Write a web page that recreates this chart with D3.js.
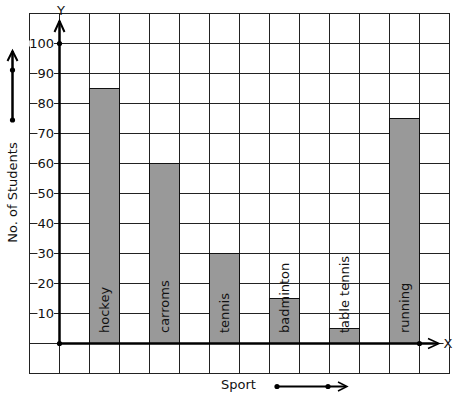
<!DOCTYPE html>
<html>
<head>
<meta charset="utf-8">
<script src="https://cdn.jsdelivr.net/npm/d3@7/dist/d3.min.js"></script>
<style>
    body { margin: 0; background: #fff; }
    text { font-family: 'DejaVu Sans', sans-serif; font-size: 13px; fill: #111; }
</style>
</head>
<body>
<script>
'use strict';

var sports = ['hockey', 'carroms', 'tennis', 'badminton', 'table tennis', 'running'];
var students = [85, 60, 30, 15, 5, 75];
var yTicks = [10, 20, 30, 40, 50, 60, 70, 80, 90, 100];
var gridValues = [-10, 0, 10, 20, 30, 40, 50, 60, 70, 80, 90, 100, 110];

var width = 457;
var height = 399;

var svg = d3.select('body').append('svg')
    .attr('width', width)
    .attr('height', height);

var x = d3.scaleBand()
    .domain(sports)
    .range([59, 449])
    .paddingInner(0.5)
    .paddingOuter(0.5);

var y = d3.scaleLinear()
    .domain([0, 100])
    .range([343, 43]);

var gridLeft = 29, gridRight = 449;
var colStep = x.step() / 2;

// grid
var grid = svg.append('g').attr('stroke', '#222').attr('stroke-width', 1);
gridValues.forEach(function (v) {
    grid.append('line')
        .attr('x1', gridLeft).attr('x2', gridRight)
        .attr('y1', y(v) + 0.5).attr('y2', y(v) + 0.5);
});
d3.range(gridLeft, gridRight + 1, colStep).forEach(function (gx) {
    grid.append('line')
        .attr('x1', gx + 0.5).attr('x2', gx + 0.5)
        .attr('y1', y(110)).attr('y2', y(-10) + 1);
});

// bars
svg.selectAll('.bar')
    .data(sports)
    .enter().append('rect')
    .attr('class', 'bar')
    .attr('x', function (d) { return x(d) + 0.5; })
    .attr('y', function (d, i) { return y(students[i]) + 0.5; })
    .attr('width', x.bandwidth())
    .attr('height', function (d, i) { return y(0) - y(students[i]); })
    .attr('fill', '#999')
    .attr('stroke', '#111');

svg.selectAll('.barlabel')
    .data(sports)
    .enter().append('text')
    .attr('class', 'barlabel')
    .attr('transform', function (d) {
        return 'translate(' + (x(d) + x.bandwidth() / 2 + 0.5) + ',' + (y(0) - 10) + ') rotate(-90)';
    })
    .attr('dominant-baseline', 'central')
    .text(function (d) { return d; });

// labels that knock out the grid line behind them
function maskedLabel(str, lx, ly, anchor) {
    var g = svg.append('g');
    var bg = g.append('rect').attr('fill', '#fff');
    var t = g.append('text')
        .attr('x', lx)
        .attr('y', ly)
        .attr('text-anchor', anchor)
        .attr('dominant-baseline', 'central')
        .text(str);
    var b = t.node().getBBox();
    bg.attr('x', b.x).attr('y', ly - 3)
        .attr('width', b.width).attr('height', 6);
}

yTicks.forEach(function (v) {
    maskedLabel(v, 54, y(v) + 0.5, 'end');
});

// axes
var axes = svg.append('g').attr('stroke', '#000').attr('fill', 'none');
axes.append('line')
    .attr('x1', 59.5).attr('x2', 59.5)
    .attr('y1', y(0) + 1).attr('y2', 21)
    .attr('stroke-width', 2.5);
axes.append('path')
    .attr('d', 'M54.5,32 L59.5,21 L64.5,32')
    .attr('stroke-width', 2);
axes.append('line')
    .attr('x1', 59).attr('x2', 438)
    .attr('y1', y(0) + 0.5).attr('y2', y(0) + 0.5)
    .attr('stroke-width', 2.5);
axes.append('path')
    .attr('d', 'M428,338.5 L439,343.5 L428,348.5')
    .attr('stroke-width', 1.5);

// side arrows
axes.append('line')
    .attr('x1', 12.5).attr('x2', 12.5)
    .attr('y1', 120).attr('y2', 51)
    .attr('stroke-width', 2.5);
axes.append('path')
    .attr('d', 'M7.5,61 L12.5,51 L17.5,61')
    .attr('stroke-width', 2);
axes.append('line')
    .attr('x1', 277).attr('x2', 346)
    .attr('y1', 386.5).attr('y2', 386.5)
    .attr('stroke-width', 2);
axes.append('path')
    .attr('d', 'M338,382 L347,386.5 L338,391')
    .attr('stroke-width', 1.5);

var dots = [[59.5, y(100) + 0.5], [59.5, y(0) + 0.5], [419.5, y(0) + 0.5],
    [12.5, 70], [12.5, 120], [277, 386.5], [328, 386.5]];
svg.selectAll('.dot')
    .data(dots)
    .enter().append('circle')
    .attr('class', 'dot')
    .attr('cx', function (d) { return d[0]; })
    .attr('cy', function (d) { return d[1]; })
    .attr('r', 2.6)
    .attr('fill', '#000');

// axis letters
maskedLabel('Y', 61, 10, 'middle');
maskedLabel('X', 448, y(0) + 0.5, 'middle');

// titles
svg.append('text')
    .attr('transform', 'translate(12,192.5) rotate(-90)')
    .attr('text-anchor', 'middle')
    .attr('dominant-baseline', 'central')
    .text('No. of Students');

svg.append('text')
    .attr('x', 238.5)
    .attr('y', 389)
    .attr('text-anchor', 'middle')
    .text('Sport');
</script>
</body>
</html>
